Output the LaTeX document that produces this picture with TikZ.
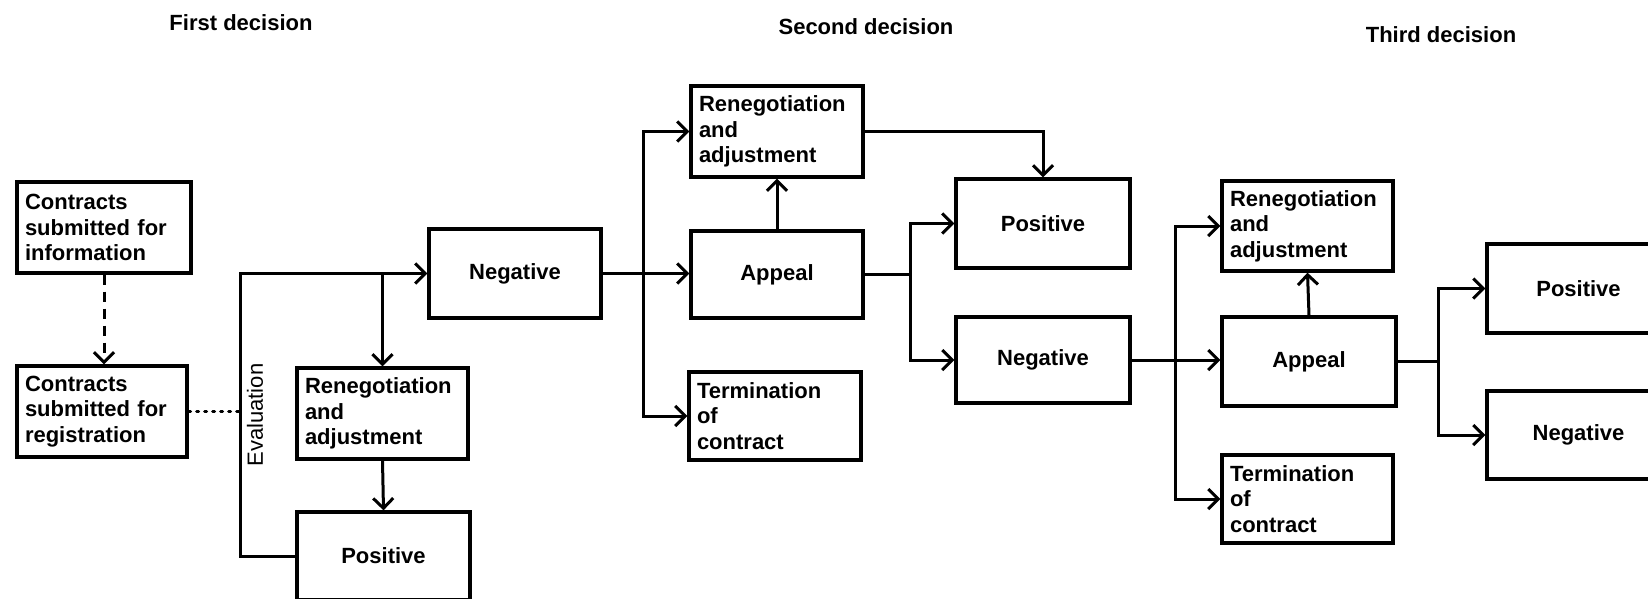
\documentclass[tikz,border=0pt]{standalone}
\usepackage{fontspec}
\setmainfont{Liberation Sans}
\usetikzlibrary{arrows.meta}
\tikzset{
  box/.style={draw, line width=3.3pt, inner xsep=8pt, inner ysep=0pt,
    font=\fontsize{22}{25.5}\selectfont\bfseries},
  mbox/.style={box, align=left},
  sbox/.style={box, align=center},
  conn/.style={line width=3pt},
  arr/.style={conn, -{Straight Barb[length=10pt,width=20pt,line width=3pt]}},
  title/.style={font=\fontsize{22}{26}\selectfont\bfseries},
}
\begin{document}
\begin{tikzpicture}[x=1pt,y=-1pt]
\useasboundingbox (0,0) rectangle (1648,598);
% titles
\node[title] (t1) at (241,23) {First decision};
\node[title] (t2) at (866,27) {Second decision};
\node[title] (t3) at (1441,35) {Third decision};
% first decision
\node[mbox, text width=158pt, minimum height=91pt] (info) at (104,227.5) {Contracts\\submitted for\\information};
\node[mbox, text width=154pt, minimum height=91pt] (reg) at (102,411.5) {Contracts\\submitted for\\registration};
\node[sbox, minimum width=172pt, minimum height=89pt] (neg1) at (515,273.5) {Negative};
\node[mbox, text width=155pt, minimum height=91pt] (reneg1) at (382.5,413.5) {Renegotiation\\and\\adjustment};
\node[sbox, minimum width=173pt, minimum height=88pt] (pos1) at (383.5,556) {Positive};
% second decision
\node[mbox, text width=156pt, minimum height=91pt] (reneg2) at (777,131.5) {Renegotiation\\and\\adjustment};
\node[sbox, minimum width=172pt, minimum height=87pt] (app2) at (777,274.5) {Appeal};
\node[mbox, text width=156pt, minimum height=88pt] (term2) at (775,416) {Termination\\of\\contract};
\node[sbox, minimum width=174pt, minimum height=89pt] (pos2) at (1043,223.5) {Positive};
\node[sbox, minimum width=174pt, minimum height=86pt] (neg2) at (1043,360) {Negative};
% third decision
\node[mbox, text width=155pt, minimum height=90pt] (reneg3) at (1307.5,226) {Renegotiation\\and\\adjustment};
\node[sbox, minimum width=174pt, minimum height=89pt] (app3) at (1309,361.5) {Appeal};
\node[mbox, text width=155pt, minimum height=88pt] (term3) at (1307.5,499) {Termination\\of\\contract};
\node[sbox, minimum width=183pt, minimum height=89pt] (pos3) at (1578.5,288.5) {Positive};
\node[sbox, minimum width=183pt, minimum height=88pt] (neg3) at (1578.5,435) {Negative};
% junction coordinates
\coordinate (evb) at (240,556);
\coordinate (j2) at (643,274);
\coordinate (j3) at (910,274.5);
\coordinate (j4) at (1175,360);
\coordinate (j5) at (1438,361.5);
% connectors, first decision
\draw[arr, dash pattern=on 10pt off 7pt] (info.south) -- (info.south |- reg.north);
\draw[conn, line cap=round, dash pattern=on 2pt off 6pt] (reg.east) -- (reg.east -| evb);
\draw[arr] (pos1.west) -- (evb) |- (neg1.west);
\coordinate (br1) at (reneg1.north |- neg1.west);
\draw[arr] (br1) -- (reneg1.north);
\draw[arr] (reneg1.south) -- (pos1.north);
\node[font=\fontsize{22}{26}\selectfont, rotate=90] (ev) at (255,415) {Evaluation};
% second decision
\draw[arr] (neg1.east) -- (neg1.east -| app2.west);
\draw[arr] (j2) |- (reneg2.west);
\draw[arr] (j2) |- (term2.west);
\draw[arr] (app2.north) -- (reneg2.south);
\draw[arr] (reneg2.east) -| (pos2.north);
\draw[conn] (app2.east) -- (j3);
\draw[arr] (j3) |- (pos2.west);
\draw[arr] (j3) |- (neg2.west);
% third decision
\draw[arr] (neg2.east) -- (neg2.east -| app3.west);
\draw[arr] (j4) |- (reneg3.west);
\draw[arr] (j4) |- (term3.west);
\draw[arr] (app3.north) -- (reneg3.south);
\draw[conn] (app3.east) -- (j5);
\draw[arr] (j5) |- (pos3.west);
\draw[arr] (j5) |- (neg3.west);
\end{tikzpicture}
\end{document}
